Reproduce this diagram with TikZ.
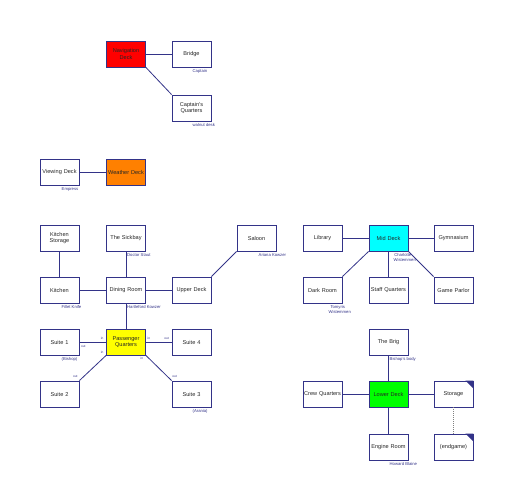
\documentclass[tikz,border=0pt]{standalone}
\usepackage{fontspec}
\setmainfont{Liberation Sans}
\begin{document}
\begin{tikzpicture}[x=1pt,y=-1pt,
  room/.style={draw=navyc, fill=white, line width=0.8pt, minimum width=39pt, minimum height=26pt,
    inner sep=1pt, align=center, text width=37pt, font=\fontsize{5.6}{6.6}\selectfont, text=black!85},
  lbl/.style={anchor=north west, inner sep=0pt, align=left, text=navyc, font=\fontsize{4.2}{5}\selectfont},
  io/.style={inner sep=0pt, text=navyc, font=\fontsize{3.2}{4}\selectfont},
  link/.style={draw=navyc, line width=0.8pt},
  dlink/.style={draw=gray, line width=0.6pt, dash pattern=on 1pt off 1pt}]
\definecolor{navyc}{RGB}{51,51,136}
\definecolor{fred}{RGB}{255,0,0}
\definecolor{forange}{RGB}{255,128,0}
\definecolor{fyellow}{RGB}{255,255,0}
\definecolor{fcyan}{RGB}{0,255,255}
\definecolor{fgreen}{RGB}{0,255,0}
\useasboundingbox (0,0) rectangle (513,500);
% nodes
\node[room, fill=fred] (nav) at (126,54) {Navigation\\Deck};
\node[room] (bridge) at (191.5,54) {Bridge};
\node[room] (cq) at (191.5,108) {Captain's\\Quarters};
\node[room] (view) at (59.5,172) {Viewing Deck};
\node[room, fill=forange] (weather) at (126,172) {Weather Deck};
\node[room] (ks) at (59.5,238) {Kitchen\\Storage};
\node[room] (sick) at (126,238) {The Sickbay};
\node[room] (saloon) at (256.5,238) {Saloon};
\node[room] (kitchen) at (59.5,290) {Kitchen};
\node[room] (dining) at (126,290) {Dining Room};
\node[room] (upper) at (191.5,290) {Upper Deck};
\node[room] (s1) at (59.5,342) {Suite 1};
\node[room, fill=fyellow] (pq) at (126,342) {Passenger\\Quarters};
\node[room] (s4) at (191.5,342) {Suite 4};
\node[room] (s2) at (59.5,394) {Suite 2};
\node[room] (s3) at (191.5,394) {Suite 3};
\node[room] (lib) at (322.5,238) {Library};
\node[room, fill=fcyan] (mid) at (388.5,238) {Mid Deck};
\node[room] (gym) at (453.5,238) {Gymnasium};
\node[room] (dark) at (322.5,290) {Dark Room};
\node[room] (staff) at (388.5,290) {Staff Quarters};
\node[room] (game) at (453.5,290) {Game Parlor};
\node[room] (brig) at (388.5,342) {The Brig};
\node[room] (crew) at (322.5,394) {Crew Quarters};
\node[room, fill=fgreen] (lower) at (388.5,394) {Lower Deck};
\node[room] (storage) at (453.5,394) {Storage};
\node[room] (engine) at (388.5,447) {Engine Room};
\node[room] (endg) at (453.5,447) {(endgame)};
% triangles
\fill[navyc] (storage.north east) -- ++(-8pt,0pt) -- ++(8pt,-8pt) -- cycle;
\fill[navyc] (endg.north east) -- ++(-8pt,0pt) -- ++(8pt,-8pt) -- cycle;
% links
\draw[link] (nav) -- (bridge);
\draw[link] (nav.south east) -- (cq.north west);
\draw[link] (view) -- (weather);
\draw[link] (ks) -- (kitchen);
\draw[link] (sick) -- (dining);
\draw[link] (kitchen) -- (dining);
\draw[link] (dining) -- (upper);
\draw[link] (upper.north east) -- (saloon.south west);
\draw[link] (dining) -- (pq);
\draw[link] (s1) -- (pq);
\draw[link] (pq) -- (s4);
\draw[link] (pq.south west) -- (s2.north east);
\draw[link] (pq.south east) -- (s3.north west);
\draw[link] (lib) -- (mid);
\draw[link] (mid) -- (gym);
\draw[link] (mid.south west) -- (dark.north east);
\draw[link] (mid) -- (staff);
\draw[link] (mid.south east) -- (game.north west);
\draw[link] (brig) -- (lower);
\draw[link] (crew) -- (lower);
\draw[link] (lower) -- (storage);
\draw[link] (lower) -- (engine);
\draw[dlink] (storage) -- (endg);
% in/out labels
\node[io] (i1) at ([xshift=-4pt,yshift=4pt]pq.west) {in};
\node[io] (o1) at ([xshift=4pt,yshift=-4pt]s1.east) {out};
\node[io] (i2) at ([xshift=-4pt,yshift=3pt]pq.south west) {in};
\node[io] (o2) at ([xshift=-4pt,yshift=4pt]s2.north east) {out};
\node[io] (i4) at ([xshift=3pt,yshift=4pt]pq.east) {in};
\node[io] (o4) at ([xshift=-5pt,yshift=4pt]s4.west) {out};
\node[io] (i3) at ([xshift=-4pt,yshift=-3pt]pq.south east) {in};
\node[io] (o3) at ([xshift=3pt,yshift=4pt]s3.north west) {out};
% labels
\node[lbl] (l1) at ([xshift=1pt,yshift=-2pt]bridge.south) {Captain};
\node[lbl] (l2) at ([xshift=1pt,yshift=-2pt]cq.south) {walnut desk};
\node[lbl] (l3) at ([xshift=2pt,yshift=-2pt]view.south) {Empress};
\node[lbl] (l4) at ([xshift=1pt,yshift=-2pt]sick.south) {Doctor Staut};
\node[lbl] (l5) at ([xshift=2pt,yshift=-2pt]saloon.south) {Ariana Kowzer};
\node[lbl] (l6) at ([xshift=2pt,yshift=-2pt]kitchen.south) {Fillet Knife};
\node[lbl] (l7) at ([xshift=1pt,yshift=-2pt]dining.south) {Hartleford Kowzer};
\node[lbl] (l8) at ([xshift=2pt,yshift=-2pt]s1.south) {(Bishop)};
\node[lbl] (l9) at ([xshift=1pt,yshift=-2pt]s3.south) {(Arania)};
\node[lbl, align=center] (l10) at ([xshift=1pt,yshift=-2pt]mid.south) {Charlotte\\\hspace*{4pt}Wistemmen};
\node[lbl, align=center] (l11) at ([xshift=2pt,yshift=-2pt]dark.south) {Tomyris\\\hspace*{4pt}Wistemmen};
\node[lbl] (l12) at ([xshift=1pt,yshift=-2pt]brig.south) {Bishop's body};
\node[lbl] (l13) at ([xshift=1pt,yshift=-2pt]engine.south) {Howard Blaine};
\end{tikzpicture}
\end{document}
